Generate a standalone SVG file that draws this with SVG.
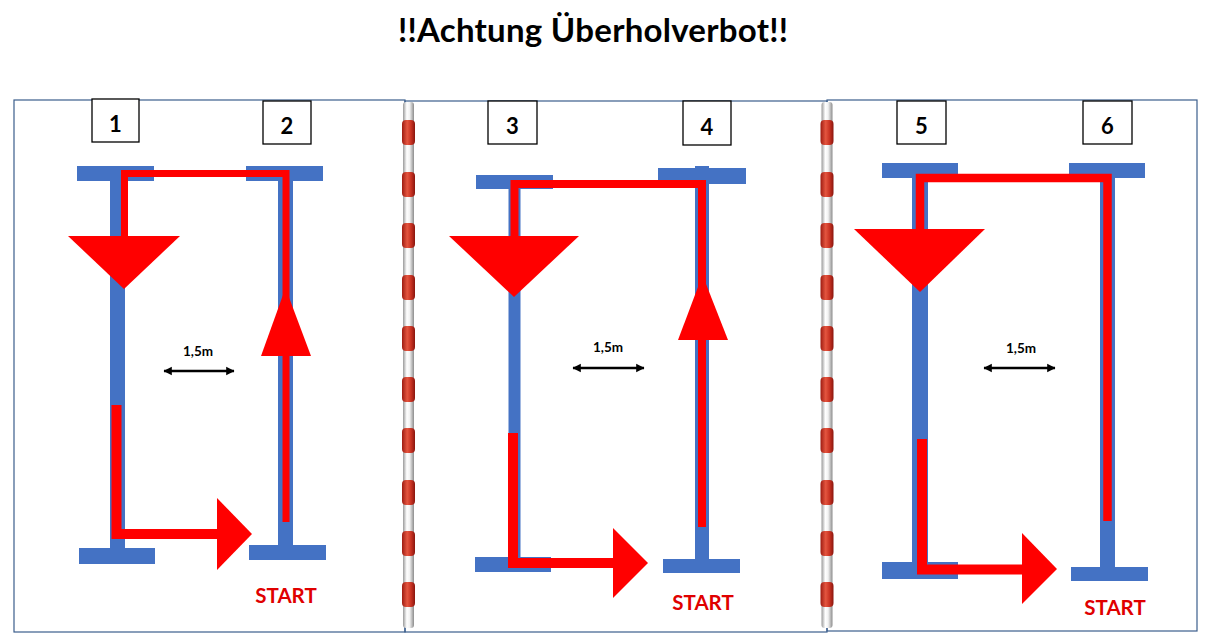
<svg xmlns="http://www.w3.org/2000/svg" width="1208" height="643" viewBox="0 0 1208 643">
<style>
.panel{fill:none;stroke:#3B5E8C;stroke-width:1.2}
.blue{fill:#4472C4}
.numbox{fill:#fff;stroke:#000;stroke-width:1.3}
.num{font-family:Lato,"Open Sans",sans-serif;font-weight:bold;font-size:22px;fill:#000;text-anchor:middle}
.route{fill:none;stroke:#FF0000;stroke-linejoin:miter;stroke-linecap:butt}
.head{fill:#FF0000}
.dim{stroke:#000;stroke-width:2.6;marker-start:url(#dimS);marker-end:url(#dimE)}
.dimtxt{font-family:Lato,"Open Sans",sans-serif;font-weight:bold;font-size:13.5px;fill:#000;text-anchor:middle}
.start{font-family:Lato,"Open Sans",sans-serif;font-weight:bold;font-size:20.5px;fill:#E00000;text-anchor:middle}
.rope{fill:url(#ropeG)}
.float{fill:url(#floatG)}
</style>
<defs>
<linearGradient id="ropeG" x1="0" y1="0" x2="1" y2="0">
<stop offset="0" stop-color="#9a9a9a"/>
<stop offset="0.35" stop-color="#ffffff"/>
<stop offset="0.6" stop-color="#f2f2f2"/>
<stop offset="1" stop-color="#8c8c8c"/>
</linearGradient>
<linearGradient id="floatG" x1="0" y1="0" x2="1" y2="0">
<stop offset="0" stop-color="#9e1c12"/>
<stop offset="0.4" stop-color="#e4553f"/>
<stop offset="0.7" stop-color="#c83222"/>
<stop offset="1" stop-color="#8a150d"/>
</linearGradient>
<marker id="dimE" markerWidth="4" markerHeight="4" refX="3" refY="2" orient="auto" markerUnits="strokeWidth">
<path d="M0,0.4 L3.2,2 L0,3.6 Z" fill="#000"/>
</marker>
<marker id="dimS" markerWidth="4" markerHeight="4" refX="1" refY="2" orient="auto" markerUnits="strokeWidth">
<path d="M4,0.4 L0.8,2 L4,3.6 Z" fill="#000"/>
</marker>
<g id="floats">
<rect class="float" x="-6.5" y="120" width="13" height="25" rx="4"/>
<rect class="float" x="-6.5" y="172" width="13" height="25" rx="4"/>
<rect class="float" x="-6.5" y="223" width="13" height="25" rx="4"/>
<rect class="float" x="-6.5" y="275" width="13" height="25" rx="4"/>
<rect class="float" x="-6.5" y="326" width="13" height="25" rx="4"/>
<rect class="float" x="-6.5" y="377" width="13" height="25" rx="4"/>
<rect class="float" x="-6.5" y="428" width="13" height="25" rx="4"/>
<rect class="float" x="-6.5" y="480" width="13" height="25" rx="4"/>
<rect class="float" x="-6.5" y="531" width="13" height="25" rx="4"/>
<rect class="float" x="-6.5" y="582" width="13" height="25" rx="4"/>
</g>
</defs>
<rect width="1208" height="643" fill="#fff"/>

<text x="593" y="42" font-family="Lato,'Open Sans',sans-serif" font-weight="bold" font-size="33" text-anchor="middle" textLength="390" lengthAdjust="spacing" fill="#000">!!Achtung Überholverbot!!</text>

<!-- panels -->
<g id="panel-1"><rect class="panel" x="14" y="100" width="391" height="532"/></g>
<g id="panel-2"><rect class="panel" x="405" y="101" width="422" height="531"/></g>
<g id="panel-3"><rect class="panel" x="827" y="100" width="370" height="531"/></g>

<!-- lane ropes -->
<g id="rope-1" transform="translate(408.5,0)">
<rect class="rope" x="-5.5" y="102" width="11" height="526" rx="3"/>
<use href="#floats"/>
</g>
<g id="rope-2" transform="translate(827,0)">
<rect class="rope" x="-5.5" y="102" width="11" height="526" rx="3"/>
<use href="#floats"/>
</g>

<!-- lanes -->
<g id="lane-1">
<rect class="blue" x="110" y="180" width="15" height="369"/>
<rect class="blue" x="77" y="166" width="77" height="15"/>
<rect class="blue" x="79" y="548" width="76" height="16"/>
<rect class="numbox" x="92" y="99" width="47" height="43"/>
<text class="num" x="115.5" y="132">1</text>
</g>
<g id="lane-2">
<rect class="blue" x="278" y="180" width="15" height="366"/>
<rect class="blue" x="246" y="166" width="77" height="15"/>
<rect class="blue" x="249" y="545" width="77" height="15"/>
<rect class="numbox" x="263" y="101" width="48" height="43"/>
<text class="num" x="287" y="134">2</text>
</g>
<g id="lane-3">
<rect class="blue" x="508.5" y="188" width="12" height="370"/>
<rect class="blue" x="476" y="175" width="77" height="14"/>
<rect class="blue" x="475" y="557" width="76" height="15"/>
<rect class="numbox" x="488" y="101" width="49" height="43"/>
<text class="num" x="512.5" y="134">3</text>
</g>
<g id="lane-4">
<rect class="blue" x="695" y="166" width="14" height="394"/>
<rect class="blue" x="658" y="168" width="88" height="16"/>
<rect class="blue" x="663" y="559" width="77" height="14"/>
<rect class="numbox" x="683" y="101" width="48" height="44"/>
<text class="num" x="707" y="135">4</text>
</g>
<g id="lane-5">
<rect class="blue" x="912" y="177" width="16" height="386"/>
<rect class="blue" x="882" y="163" width="76" height="15"/>
<rect class="blue" x="882" y="562" width="76" height="17"/>
<rect class="numbox" x="897" y="101" width="49" height="43"/>
<text class="num" x="921.5" y="134">5</text>
</g>
<g id="lane-6">
<rect class="blue" x="1100" y="177" width="15" height="391"/>
<rect class="blue" x="1069" y="163" width="76" height="15"/>
<rect class="blue" x="1071" y="567" width="77" height="14"/>
<rect class="numbox" x="1083" y="101" width="49" height="43"/>
<text class="num" x="1107.5" y="134">6</text>
</g>

<!-- routes (connectors) -->
<g id="connectors">
<path class="route" stroke-width="7" d="M286,522 V173.5 H124.5 V237"/>
<polygon class="head" points="68,236 180,236 124,289"/>
<polygon class="head" points="261,356 311,356 285.5,288"/>
<path class="route" stroke-width="10" d="M116.5,405 V534 H218"/>
<polygon class="head" points="217,498 217,570 252,534"/>

<path class="route" stroke-width="8" d="M702,527 V184 H514.5 V237"/>
<polygon class="head" points="449,236 579,236 514,297"/>
<polygon class="head" points="678,340 728,340 702.5,275"/>
<path class="route" stroke-width="10" d="M513,433 V563 H614"/>
<polygon class="head" points="613,528 613,598 648,563"/>

<path class="route" stroke-width="8.5" d="M1107.5,521 V178 H920 V230"/>
<polygon class="head" points="854,229 985,229 920,292"/>
<path class="route" stroke-width="10" d="M922,439 V569.5 H1023"/>
<polygon class="head" points="1022,533 1022,604 1057,569"/>
</g>

<!-- distance markers -->
<g id="dist-1">
<line class="dim" x1="164" y1="371" x2="234" y2="371"/>
<text class="dimtxt" x="198" y="356">1,5m</text>
</g>
<g id="dist-2">
<line class="dim" x1="573" y1="368" x2="644" y2="368"/>
<text class="dimtxt" x="608" y="352">1,5m</text>
</g>
<g id="dist-3">
<line class="dim" x1="984" y1="368" x2="1055" y2="368"/>
<text class="dimtxt" x="1021" y="353">1,5m</text>
</g>

<!-- start labels -->
<text class="start" x="286" y="603">START</text>
<text class="start" x="703" y="610">START</text>
<text class="start" x="1115" y="615">START</text>
</svg>
